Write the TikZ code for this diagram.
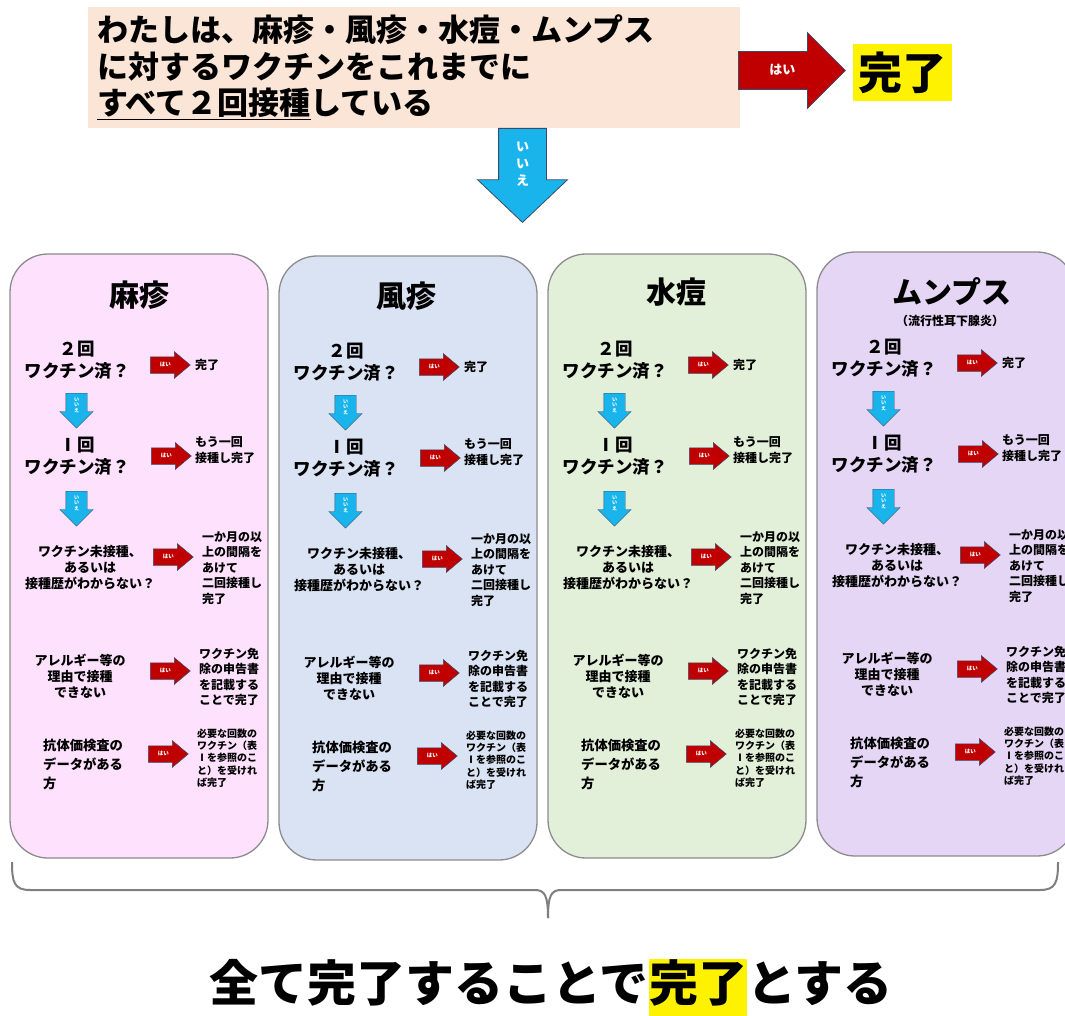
\documentclass[tikz,border=0pt]{standalone}
\usepackage{fontspec}
\setmainfont{Noto Sans CJK JP}
\usetikzlibrary{shapes.arrows}
\definecolor{qbox}{HTML}{FBE5D6}
\definecolor{redA}{HTML}{C00000}
\definecolor{blueA}{HTML}{1AB4EC}
\definecolor{edgeA}{HTML}{3A4A6A}
\definecolor{colA}{HTML}{FDE1FD}
\definecolor{colB}{HTML}{DAE3F3}
\definecolor{colC}{HTML}{E2F0D9}
\definecolor{colD}{HTML}{E6D6F5}
\definecolor{frameC}{HTML}{8C8C8C}
\definecolor{braceC}{HTML}{7F7F7F}
\newcommand\fsz[2]{\fontsize{#1}{#2}\selectfont}
\tikzset{
  colbox/.style={rectangle, rounded corners=38pt, draw=frameC, line width=1.3pt, minimum width=258pt, minimum height=604pt, inner sep=0pt},
  coltitle/.style={font=\bfseries\fsz{30}{36}, inner sep=0pt},
  qa/.style={font=\bfseries\fsz{17.5}{21.5}, align=center, inner sep=0pt},
  qb/.style={font=\bfseries\fsz{13}{16}, align=center, inner sep=0pt},
  qc/.style={font=\bfseries\fsz{13.3}{19}, align=left, inner sep=0pt},
  ans/.style={font=\bfseries\fsz{12}{15.5}, align=left, inner sep=0pt},
  smallans/.style={font=\bfseries\fsz{10}{12.3}, align=left, inner sep=0pt},
  redsm/.style={single arrow, fill=redA, draw=edgeA, line width=0.5pt, minimum height=40pt, minimum width=26pt, single arrow head extend=5pt, single arrow tip angle=80, inner xsep=0pt, inner ysep=5.5pt, text height=4pt, text depth=1pt, text=white, font=\bfseries\fsz{5.5}{6}, anchor=tail},
  bluesm/.style={single arrow, shape border rotate=270, fill=blueA, draw=edgeA, line width=0.4pt, minimum height=35pt, minimum width=33pt, single arrow head extend=6pt, inner xsep=8pt, inner ysep=0pt, text=white, font=\bfseries\fsz{5}{5.8}, align=center, anchor=tail},
  bigred/.style={single arrow, fill=redA, draw=edgeA, line width=0.8pt, minimum height=107pt, minimum width=75pt, single arrow head extend=19pt, single arrow tip angle=90, inner xsep=0pt, inner ysep=12.5pt, text height=10pt, text depth=2pt, text=white, font=\bfseries\fsz{13}{14}, anchor=tail},
  bigblue/.style={single arrow, shape border rotate=270, fill=blueA, draw=edgeA, line width=0.8pt, minimum height=94pt, minimum width=89pt, single arrow head extend=21pt, single arrow tip angle=93, inner xsep=17pt, inner ysep=0pt, text=white, font=\bfseries\fsz{13}{17}, align=center, anchor=tail},
  bracestyle/.style={draw=braceC, line width=2pt},
  bottomtext/.style={font=\bfseries\fsz{49}{55}, inner sep=0pt}
}
\newcommand\mkcol[4]{%
\begin{scope}[shift={(#2,#3)}]
\node[colbox, fill=#4] (#1box) at (129,556) {};
\node[qa] (#1q1) at (67,360) {２回\\ワクチン済？};
\node[redsm] (#1r1) at (140,365) {はい};
\node[ans, anchor=west] (#1a1) at (185,365) {完了};
\node[bluesm] (#1b1) at (66.5,393) {い\\い\\え};
\node[qa] (#1q2) at (67,456) {Ⅰ回\\ワクチン済？};
\node[redsm] (#1r2) at (141,456) {はい};
\node[ans, anchor=west] (#1a2) at (185,450) {もう一回\\接種し完了};
\node[bluesm] (#1b2) at (66.5,491) {い\\い\\え};
\node[qb] (#1q3) at (80,568) {ワクチン未接種、\\あるいは\\接種歴がわからない？};
\node[redsm] (#1r3) at (143,557) {はい};
\node[ans, anchor=west] (#1a3) at (192,568) {一か月の以\\上の間隔を\\あけて\\二回接種し\\完了};
\node[qb] (#1q4) at (70,676) {アレルギー等の\\理由で接種\\できない};
\node[redsm] (#1r4) at (140,671) {はい};
\node[ans, anchor=west] (#1a4) at (189,677) {ワクチン免\\除の申告書\\を記載する\\ことで完了};
\node[qc, anchor=west] (#1q5) at (33,764) {抗体価検査の\\データがある\\方};
\node[redsm] (#1r5) at (138,754) {はい};
\node[smallans, anchor=west] (#1a5) at (187,758) {必要な回数の\\ワクチン（表\\Ⅰを参照のこ\\と）を受けれ\\ば完了};
\end{scope}}
\begin{document}
\begin{tikzpicture}[x=1pt,y=-1pt]
\useasboundingbox (0,0) rectangle (1065,1016);
\clip (0,0) rectangle (1065,1016);
\fill[white] (0,0) rectangle (1065,1016);
% top question
\node[fill=qbox, minimum width=652pt, minimum height=121pt, text width=634pt, align=left, inner sep=0pt, font=\bfseries\fsz{31}{36.5}] (question) at (414,67.5) {わたしは、麻疹・風疹・水痘・ムンプス\\に対するワクチンをこれまでに\\\underline{すべて２回接種}している};
\node[bigred] (yes) at (738,70.5) {はい};
\node[fill=yellow, minimum width=99pt, minimum height=57pt, inner sep=0pt, font=\bfseries\fsz{44}{50}] (done) at (902.5,72.5) {完了};
\node[bigblue] (no) at (522.5,128) {い\\い\\え};
% columns
\mkcol{m}{10}{0}{colA}
\mkcol{r}{279}{2}{colB}
\mkcol{v}{548}{0}{colC}
\mkcol{p}{817}{-2}{colD}
\node[coltitle] (mtitle) at (139,295) {麻疹};
\node[coltitle] (rtitle) at (406,296) {風疹};
\node[coltitle] (vtitle) at (676,292) {水痘};
\node[coltitle] (ptitle) at (952,292) {ムンプス};
\node[font=\bfseries\fsz{12}{14}, inner sep=0pt] (psub) at (950,321) {（流行性耳下腺炎）};
% brace
\draw[bracestyle] (12,862) .. controls (12,882) and (14,890) .. (30,890) -- (535,890) .. controls (545,890) and (548,896) .. (548,918);
\draw[bracestyle] (548,918) .. controls (548,896) and (551,890) .. (561,890) -- (1040,890) .. controls (1056,890) and (1058,882) .. (1058,862);
% bottom text
\node[bottomtext, fill=yellow, text height=42pt, text depth=16pt, anchor=base] (mid) at (698,1001) {完了};
\node[bottomtext, anchor=base east] (lefttext) at (mid.base west) {全て完了することで};
\node[bottomtext, anchor=base west] (righttext) at (mid.base east) {とする};
\end{tikzpicture}
\end{document}
